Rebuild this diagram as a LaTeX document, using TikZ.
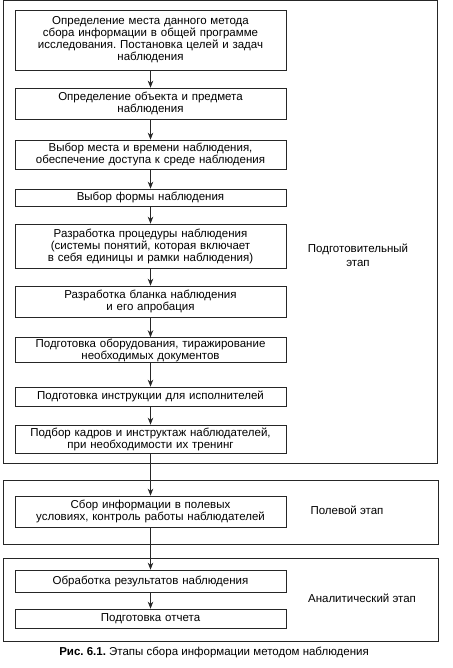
\documentclass[tikz,border=0pt]{standalone}
\usepackage{fontspec}
\setmainfont{Liberation Sans}
\usetikzlibrary{arrows.meta}
\frenchspacing
\begin{document}
\begin{tikzpicture}[x=1pt,y=-1pt,
  box/.style={draw=black!85, line width=0.7pt, minimum width=271pt, text width=268pt, align=center, inner sep=1pt, font=\fontsize{11.5}{12}\selectfont},
  frame/.style={draw=black!85, line width=0.7pt, inner sep=0pt},
  lbl/.style={align=center, font=\fontsize{11.5}{14}\selectfont},
  arr/.style={draw=black!85, line width=0.7pt, -{Stealth[length=7pt,width=5.5pt]}}]
\useasboundingbox (0,0) rectangle (452,668);
% frames
\node[frame, minimum width=434pt, minimum height=462.5pt] (f1) at (220.5,231.75) {};
\node[frame, minimum width=435pt, minimum height=64pt] (f2) at (220.5,512) {};
\node[frame, minimum width=435pt, minimum height=83pt] (f3) at (220.5,599.5) {};
% boxes
\node[box, minimum height=60pt] (b1) at (150.5,40) {Определение места данного метода\\сбора информации в общей программе\\исследования. Постановка целей и задач\\наблюдения};
\node[box, minimum height=31pt] (b2) at (150.5,103.5) {Определение объекта и предмета\\наблюдения};
\node[box, minimum height=29pt] (b3) at (150.5,154.5) {Выбор места и времени наблюдения,\\обеспечение доступа к среде наблюдения};
\node[box, minimum height=17pt] (b4) at (150.5,197.5) {Выбор формы наблюдения};
\node[box, minimum height=44pt] (b5) at (150.5,246) {Разработка процедуры наблюдения\\(системы понятий, которая включает\\в себя единицы и рамки наблюдения)};
\node[box, minimum height=31pt] (b6) at (150.5,301.5) {Разработка бланка наблюдения\\и его апробация};
\node[box, minimum height=24pt] (b7) at (150.5,350) {Подготовка оборудования, тиражирование\\необходимых документов};
\node[box, minimum height=19pt] (b8) at (150.5,396.5) {Подготовка инструкции для исполнителей};
\node[box, minimum height=28pt] (b9) at (150.5,439) {Подбор кадров и инструктаж наблюдателей,\\при необходимости их тренинг};
\node[box, minimum height=31pt] (b10) at (150.5,511.5) {Сбор информации в полевых\\условиях, контроль работы наблюдателей};
\node[box, minimum height=22pt] (b11) at (150.5,581) {Обработка результатов наблюдения};
\node[box, minimum height=19pt] (b12) at (150.5,618.5) {Подготовка отчета};
% labels
\node[lbl] (l1) at (358,255) {Подготовительный\\этап};
\node[lbl] (l2) at (347,510) {Полевой этап};
\node[lbl] (l3) at (362,598) {Аналитический этап};
\node[font=\fontsize{11.5}{12}\selectfont] (cap) at (214,652.5) {\textbf{Рис. 6.1.} Этапы сбора информации методом наблюдения};
% arrows
\draw[arr] (b1) -- (b2);
\draw[arr] (b2) -- (b3);
\draw[arr] (b3) -- (b4);
\draw[arr] (b4) -- (b5);
\draw[arr] (b5) -- (b6);
\draw[arr] (b6) -- (b7);
\draw[arr] (b7) -- (b8);
\draw[arr] (b8) -- (b9);
\draw[arr] (b9) -- (b10);
\draw[arr] (b10) -- (b11);
\draw[arr] (b11) -- (b12);
\end{tikzpicture}
\end{document}
